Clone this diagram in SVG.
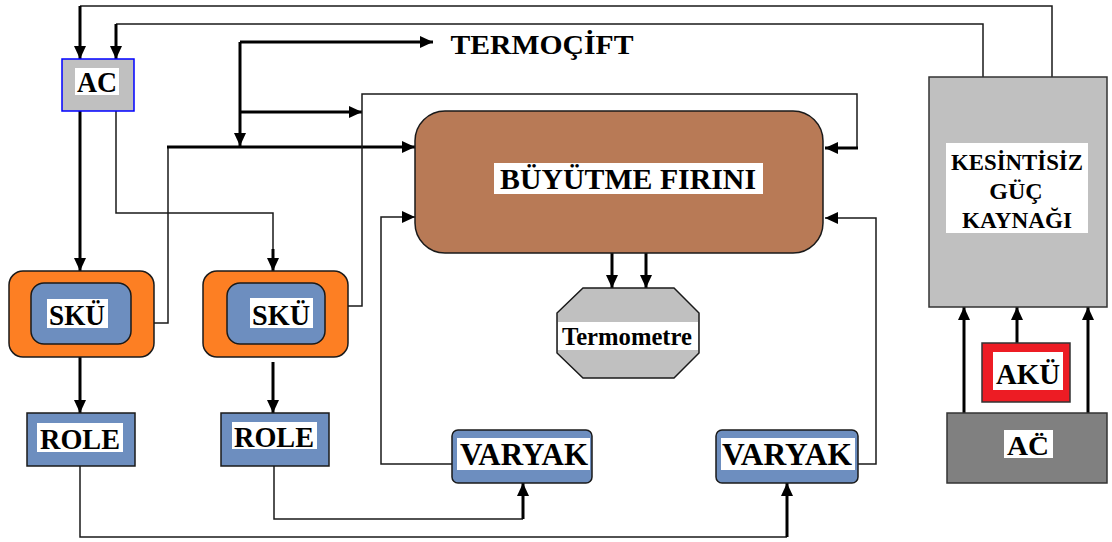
<svg xmlns="http://www.w3.org/2000/svg" width="1112" height="542" viewBox="0 0 1112 542">
<style>
text{font-family:"Liberation Serif","Times New Roman",serif;font-weight:bold;fill:#000;text-anchor:middle}
.box{stroke:#1a1a1a;stroke-width:1.5}
.bg{fill:#fff}
.thin{fill:none;stroke:#1a1a1a;stroke-width:1.5}
.thick{fill:none;stroke:#000;stroke-width:3}
.arr{marker-end:url(#ah)}
</style>
<defs>
<marker id="ah" viewBox="0 0 13 12" refX="13" refY="6" markerWidth="13" markerHeight="12" markerUnits="userSpaceOnUse" orient="auto">
<path d="M0,0 L13,6 L0,12 Z" fill="#000"/>
</marker>
</defs>
<rect width="1112" height="542" fill="#fff"/>
<g id="connectors">
<path class="thin" d="M1052,78 V6 H80"/>
<path class="thick arr" d="M80,6 V59"/>
<path class="thin" d="M983,78 V24 H116"/>
<path class="thick arr" d="M116,24 V59"/>
<path class="thick arr" d="M240,42 H433"/>
<path class="thick arr" d="M240,42 V146"/>
<path class="thick arr" d="M240,112 H362"/>
<path class="thin" d="M154,323 H168 V147"/>
<path class="thick arr" d="M167,147 H415"/>
<path class="thin" d="M348,306 H362 V94 H857 V148"/>
<path class="thick arr" d="M858,148 H825"/>
<path class="thick arr" d="M80,111 V271"/>
<path class="thin" d="M116,111 V213 H273 V250"/>
<path class="thick arr" d="M273,249 V271"/>
<path class="thick arr" d="M80,357 V413"/>
<path class="thick arr" d="M273,362 V413"/>
<path class="thin" d="M80,466 V537 H787"/>
<path class="thick arr" d="M787,537 V483"/>
<path class="thin" d="M274,466 V519 H523"/>
<path class="thick arr" d="M523,519 V483"/>
<path class="thin arr" d="M452,464 H381 V217 H415"/>
<path class="thin arr" d="M858,464 H876 V218 H825"/>
<path class="thick arr" d="M612,253 V288"/>
<path class="thick arr" d="M646,253 V288"/>
<path class="thick arr" d="M964,413 V307"/>
<path class="thick arr" d="M1088,413 V307"/>
<path class="thick arr" d="M1017,343 V307"/>
</g>
<g id="termocift">
<text x="542" y="54" font-size="28" textLength="183" lengthAdjust="spacingAndGlyphs">TERMOÇİFT</text>
</g>
<g id="ac-top">
<rect x="62" y="59" width="72" height="52" fill="#c0c0c0" stroke="#0000ff" stroke-width="1.5"/>
<rect class="bg" x="75" y="68" width="44" height="27"/>
<text x="97" y="92" font-size="30" textLength="40" lengthAdjust="spacingAndGlyphs">AC</text>
</g>
<g id="furnace">
<rect class="box" x="415" y="111" width="408" height="142" rx="30" fill="#b87a56"/>
<rect class="bg" x="494" y="163" width="269" height="31"/>
<text x="628" y="189" font-size="30" textLength="256" lengthAdjust="spacingAndGlyphs">BÜYÜTME FIRINI</text>
</g>
<g id="sku1">
<rect class="box" x="9" y="271" width="145" height="86" rx="14" fill="#fd7f23"/>
<rect class="box" x="31" y="283" width="100" height="61" rx="13" fill="#6d8ebf"/>
<rect class="bg" x="47" y="299" width="61" height="29"/>
<text x="77" y="325" font-size="30" textLength="56" lengthAdjust="spacingAndGlyphs">SKÜ</text>
</g>
<g id="sku2">
<rect class="box" x="203" y="271" width="145" height="86" rx="14" fill="#fd7f23"/>
<rect class="box" x="227" y="283" width="98" height="61" rx="13" fill="#6d8ebf"/>
<rect class="bg" x="250" y="298" width="63" height="30"/>
<text x="281" y="325" font-size="30" textLength="58" lengthAdjust="spacingAndGlyphs">SKÜ</text>
</g>
<g id="role1">
<rect class="box" x="27" y="413" width="108" height="53" fill="#6d8ebf"/>
<rect class="bg" x="37" y="423" width="86" height="29"/>
<text x="80" y="449" font-size="30" textLength="80" lengthAdjust="spacingAndGlyphs">ROLE</text>
</g>
<g id="role2">
<rect class="box" x="221" y="413" width="108" height="53" fill="#6d8ebf"/>
<rect class="bg" x="232" y="422" width="85" height="27"/>
<text x="274" y="447" font-size="30" textLength="80" lengthAdjust="spacingAndGlyphs">ROLE</text>
</g>
<g id="termometre">
<polygon class="box" points="583,288 674,288 699,313 699,353 674,378 583,378 557,353 557,313" fill="#c0c0c0"/>
<rect class="bg" x="558" y="322" width="140" height="28"/>
<text x="627" y="345" font-size="25" textLength="130" lengthAdjust="spacingAndGlyphs">Termometre</text>
</g>
<g id="varyak1">
<rect class="box" x="452" y="430" width="140" height="53" rx="6" fill="#6d8ebf"/>
<rect class="bg" x="457" y="438" width="133" height="32"/>
<text x="524" y="465" font-size="31" textLength="128" lengthAdjust="spacingAndGlyphs">VARYAK</text>
</g>
<g id="varyak2">
<rect class="box" x="716" y="430" width="142" height="53" rx="6" fill="#6d8ebf"/>
<rect class="bg" x="721" y="438" width="134" height="32"/>
<text x="787" y="465" font-size="31" textLength="130" lengthAdjust="spacingAndGlyphs">VARYAK</text>
</g>
<g id="ups">
<rect x="929" y="77" width="178" height="230" fill="#c0c0c0" stroke="#333" stroke-width="1.5"/>
<rect class="bg" x="946" y="143" width="142" height="90"/>
<text x="1017" y="170" font-size="24" textLength="132" lengthAdjust="spacingAndGlyphs">KESİNTİSİZ</text>
<text x="1016" y="199" font-size="24">GÜÇ</text>
<text x="1017" y="228" font-size="24" textLength="110" lengthAdjust="spacingAndGlyphs">KAYNAĞI</text>
</g>
<g id="aku">
<rect x="982" y="343" width="88" height="59" fill="#ed1c24" stroke="#333" stroke-width="1.5"/>
<rect class="bg" x="993" y="352" width="70" height="38"/>
<text x="1028" y="384" font-size="30" textLength="64" lengthAdjust="spacingAndGlyphs">AKÜ</text>
</g>
<g id="ac-bottom">
<rect x="947" y="413" width="160" height="70" fill="#808080" stroke="#333" stroke-width="1.5"/>
<rect class="bg" x="1004" y="430" width="49" height="28"/>
<text x="1028" y="455" font-size="28" textLength="42" lengthAdjust="spacingAndGlyphs">AC̈</text>
</g>
</svg>
